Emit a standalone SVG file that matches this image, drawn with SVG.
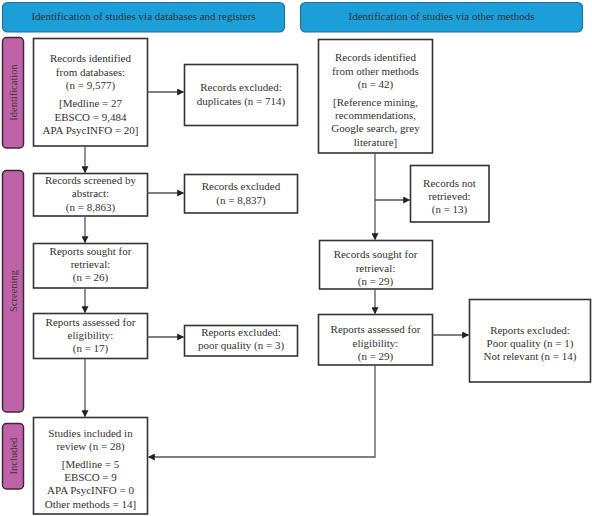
<svg xmlns="http://www.w3.org/2000/svg" width="592" height="516" viewBox="0 0 592 516">
<style>
text{font-family:"Liberation Serif","Times New Roman",serif;font-size:11px;fill:#333;text-anchor:middle}
.hdr{fill:#1c9fd8;stroke:#2a6f91;stroke-width:1.2}
.side{fill:#c062a8;stroke:#3a2a36;stroke-width:1.5}
.box{fill:#fff;stroke:#333;stroke-width:1.6}
.ln{fill:none;stroke:#555;stroke-width:1.3}
.st{font-size:10.5px;fill:#3a3a3a}
</style>
<defs>
<marker id="ah" viewBox="0 0 10 10" refX="9" refY="5" markerWidth="7" markerHeight="7" markerUnits="userSpaceOnUse" orient="auto">
<path d="M0,0 L10,5 L0,10 z" fill="#222"/>
</marker>
</defs>
<g id="header-left"><rect class="hdr" x="2.5" y="2.5" width="282" height="29.5" rx="5"/><text x="143.5" y="20">Identification of studies via databases and registers</text></g>
<g id="header-right"><rect class="hdr" x="300.5" y="2.5" width="282" height="29.5" rx="5"/><text x="441.5" y="20">Identification of studies via other methods</text></g>
<g id="side-identification"><rect class="side" x="2.5" y="37.5" width="21" height="110.5" rx="4"/><text class="st" transform="translate(17 92.5) rotate(-90)">Identification</text></g>
<g id="side-screening"><rect class="side" x="2.5" y="170.5" width="21" height="241.5" rx="4"/><text class="st" transform="translate(17 291) rotate(-90)">Screening</text></g>
<g id="side-included"><rect class="side" x="2.5" y="423.5" width="21" height="65.5" rx="4"/><text class="st" transform="translate(17 456) rotate(-90)">Included</text></g>

<g id="n-db"><rect class="box" x="33.5" y="38.5" width="114" height="107.5"/>
<text x="90.5" y="62">Records identified</text><text x="90.5" y="76">from databases:</text><text x="90.5" y="89">(n = 9,577)</text>
<text x="90.5" y="107">[Medline = 27</text><text x="90.5" y="121">EBSCO = 9,484</text><text x="90.5" y="134">APA PsycINFO = 20]</text></g>
<g id="n-dup"><rect class="box" x="184.5" y="64.5" width="113" height="61"/>
<text x="241" y="91">Records excluded:</text><text x="241" y="105">duplicates (n = 714)</text></g>
<g id="n-screened"><rect class="box" x="33.5" y="173.5" width="114" height="42.5"/>
<text x="90.5" y="184">Records screened by</text><text x="90.5" y="197">abstract:</text><text x="90.5" y="211">(n = 8,863)</text></g>
<g id="n-excl1"><rect class="box" x="184.5" y="174.5" width="113" height="38.5"/>
<text x="241" y="190">Records excluded</text><text x="241" y="204">(n = 8,837)</text></g>
<g id="n-sought"><rect class="box" x="33.5" y="243.5" width="114" height="44.5"/>
<text x="90.5" y="255">Reports sought for</text><text x="90.5" y="268">retrieval:</text><text x="90.5" y="281">(n = 26)</text></g>
<g id="n-assessed"><rect class="box" x="33.5" y="313.5" width="114" height="45"/>
<text x="90.5" y="326">Reports assessed for</text><text x="90.5" y="339">eligibility:</text><text x="90.5" y="352">(n = 17)</text></g>
<g id="n-excl2"><rect class="box" x="184.5" y="325.5" width="113" height="30.5"/>
<text x="241" y="336">Reports excluded:</text><text x="241" y="349">poor quality (n = 3)</text></g>
<g id="n-included"><rect class="box" x="33.5" y="417.5" width="114" height="96.5"/>
<text x="90.5" y="437">Studies included in</text><text x="90.5" y="450">review (n = 28)</text>
<text x="90.5" y="468">[Medline = 5</text><text x="90.5" y="481">EBSCO = 9</text><text x="90.5" y="494">APA PsycINFO = 0</text><text x="90.5" y="508">Other methods = 14]</text></g>

<g id="n-other"><rect class="box" x="318.5" y="39.5" width="114" height="113.5"/>
<text x="375.5" y="61">Records identified</text><text x="375.5" y="75">from other methods</text><text x="375.5" y="88">(n = 42)</text>
<text x="375.5" y="106">[Reference mining,</text><text x="375.5" y="119">recommendations,</text><text x="375.5" y="132">Google search, grey</text><text x="375.5" y="146">literature]</text></g>
<g id="n-notret"><rect class="box" x="410.5" y="165.5" width="78.5" height="56.5"/>
<text x="449.5" y="187">Records not</text><text x="449.5" y="200">retrieved:</text><text x="449.5" y="213">(n = 13)</text></g>
<g id="n-sought2"><rect class="box" x="319.5" y="240.5" width="113" height="48.5"/>
<text x="375.5" y="258">Records sought for</text><text x="375.5" y="272">retrieval:</text><text x="375.5" y="285">(n = 29)</text></g>
<g id="n-assessed2"><rect class="box" x="318.5" y="314.5" width="114" height="50.5"/>
<text x="375.5" y="333">Reports assessed for</text><text x="375.5" y="347">eligibility:</text><text x="375.5" y="360">(n = 29)</text></g>
<g id="n-excl3"><rect class="box" x="469.5" y="299.5" width="121" height="82.5"/>
<text x="530" y="334">Reports excluded:</text><text x="530" y="347">Poor quality (n = 1)</text><text x="530" y="360">Not relevant (n = 14)</text></g>

<g id="connectors">
<line class="ln" x1="147.5" y1="92" x2="183.5" y2="92" marker-end="url(#ah)"/>
<line class="ln" x1="85" y1="146" x2="85" y2="172.5" marker-end="url(#ah)"/>
<line class="ln" x1="147.5" y1="193" x2="183.5" y2="193" marker-end="url(#ah)"/>
<line class="ln" x1="85" y1="216" x2="85" y2="242.5" marker-end="url(#ah)"/>
<line class="ln" x1="85" y1="288" x2="85" y2="312.5" marker-end="url(#ah)"/>
<line class="ln" x1="147.5" y1="337" x2="183.5" y2="337" marker-end="url(#ah)"/>
<line class="ln" x1="85" y1="358.5" x2="85" y2="416.5" marker-end="url(#ah)"/>
<line class="ln" x1="375" y1="153" x2="375" y2="239.5" marker-end="url(#ah)"/>
<line class="ln" x1="375" y1="200" x2="409.5" y2="200" marker-end="url(#ah)"/>
<line class="ln" x1="375" y1="289" x2="375" y2="313.5" marker-end="url(#ah)"/>
<line class="ln" x1="432.5" y1="335" x2="468.5" y2="335" marker-end="url(#ah)"/>
<polyline class="ln" points="375,365 375,457 148.5,457" marker-end="url(#ah)"/>
</g>
</svg>
